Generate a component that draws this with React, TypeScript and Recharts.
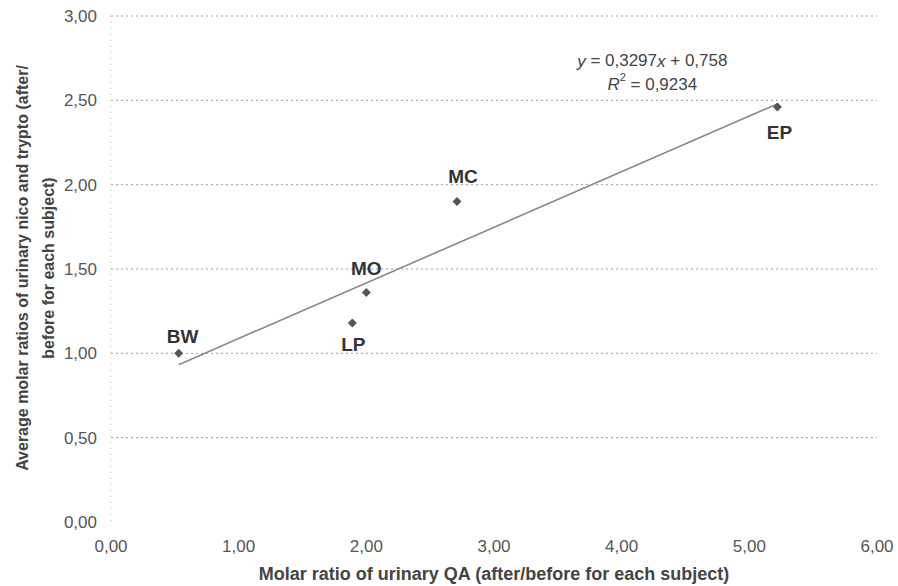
import {
  ScatterChart,
  Scatter,
  XAxis,
  YAxis,
  CartesianGrid,
  ReferenceDot,
} from "recharts";

const subjects = ["BW", "LP", "MO", "MC", "EP"];
const qaRatio = [0.53, 1.89, 2.0, 2.71, 5.22];
const nicoRatio = [1.0, 1.18, 1.36, 1.9, 2.46];

const xTicks = [0, 1, 2, 3, 4, 5, 6];
const yTicks = [0, 0.5, 1, 1.5, 2, 2.5, 3];

// regression printed on the figure
const slope = 0.3297;
const intercept = 0.758;
const rSquared = "0,9234";

// where each subject's tag sits relative to its marker
const tagOffset: Record<string, [number, number]> = {
  BW: [4, -17],
  LP: [1, 22],
  MO: [0, -24],
  MC: [6, -25],
  EP: [2, 25],
};

const points = subjects.map((name, i) => ({ name, x: qaRatio[i], y: nicoRatio[i] }));
const xMin = Math.min(...qaRatio);
const xMax = Math.max(...qaRatio);
const trend = [
  { x: xMin, y: slope * xMin + intercept },
  { x: xMax, y: slope * xMax + intercept },
];

const fmt = (v: number) => v.toFixed(2).replace(".", ",");
const FONT = "'Liberation Sans', Arial, sans-serif";

function Marker(props: any) {
  const { cx, cy, payload } = props;
  const [dx, dy] = tagOffset[payload.name] ?? [0, -20];
  const s = 4.5;
  return (
    <g>
      <polygon
        points={`${cx},${cy - s} ${cx + s},${cy} ${cx},${cy + s} ${cx - s},${cy}`}
        fill="#555"
      />
      <text
        x={cx + dx}
        y={cy + dy}
        textAnchor="middle"
        dominantBaseline="central"
        fontSize={19}
        fontWeight="bold"
        fill="#333"
        fontFamily={FONT}
      >
        {payload.name}
      </text>
    </g>
  );
}

export default function App() {
  return (
    <div style={{ position: "absolute", left: 0, top: 0, background: "#fff" }}>
      <ScatterChart
        width={898}
        height={586}
        margin={{ top: 16, right: 21, bottom: 0, left: 0 }}
      >
        <CartesianGrid
          vertical={false}
          horizontalValues={[0.5, 1, 1.5, 2, 2.5, 3]}
          stroke="#999"
          strokeDasharray="2 3"
        />
        <XAxis
          type="number"
          dataKey="x"
          domain={[0, 6]}
          ticks={xTicks}
          tickFormatter={fmt}
          height={64}
          axisLine={false}
          tickLine={false}
          tickMargin={12}
          tick={{ fontSize: 17, fill: "#555", fontFamily: FONT }}
          label={{
            content: () => (
              <text
                x={494}
                y={574}
                textAnchor="middle"
                dominantBaseline="central"
                fontSize={18}
                fontWeight="bold"
                fill="#444"
                fontFamily={FONT}
              >
                Molar ratio of urinary QA (after/before for each subject)
              </text>
            ),
          }}
        />
        <YAxis
          type="number"
          dataKey="y"
          domain={[0, 3]}
          ticks={yTicks}
          tickFormatter={fmt}
          width={111}
          axisLine={{ stroke: "#bbb", strokeDasharray: "1 5" }}
          tickLine={false}
          tickMargin={8}
          tick={{ fontSize: 17, fill: "#555", fontFamily: FONT }}
          label={{
            content: () => (
              <g
                fontSize={16}
                fontWeight="bold"
                fill="#444"
                fontFamily={FONT}
                textAnchor="middle"
              >
                <text x={22} y={268} transform="rotate(-90 22 268)" dominantBaseline="central">
                  Average molar ratios of urinary nico and trypto (after/
                </text>
                <text x={48} y={268} transform="rotate(-90 48 268)" dominantBaseline="central">
                  before for each subject)
                </text>
              </g>
            ),
          }}
        />
        <Scatter
          data={trend}
          line={{ stroke: "#888", strokeWidth: 1.6 }}
          shape={() => <g />}
          isAnimationActive={false}
        />
        <Scatter data={points} shape={Marker} isAnimationActive={false} />
        <ReferenceDot
          x={4.24}
          y={2.67}
          r={0}
          label={{
            content: (p: any) => {
              const vb = p.viewBox ?? {};
              const cx = (vb.x ?? 0) + (vb.width ?? 0) / 2;
              const cy = (vb.y ?? 0) + (vb.height ?? 0) / 2;
              return (
                <g fontSize={17} fill="#444" fontFamily={FONT} textAnchor="middle">
                  <text x={cx} y={cy - 11} dominantBaseline="central">
                    <tspan fontStyle="italic">y</tspan> = 0,3297<tspan fontStyle="italic">x</tspan> + 0,758
                  </text>
                  <text x={cx} y={cy + 12} dominantBaseline="central">
                    <tspan fontStyle="italic">R</tspan>
                    <tspan fontSize={11} dy={-7}>2</tspan>
                    <tspan dy={7}> = {rSquared}</tspan>
                  </text>
                </g>
              );
            },
          }}
        />
      </ScatterChart>
    </div>
  );
}
